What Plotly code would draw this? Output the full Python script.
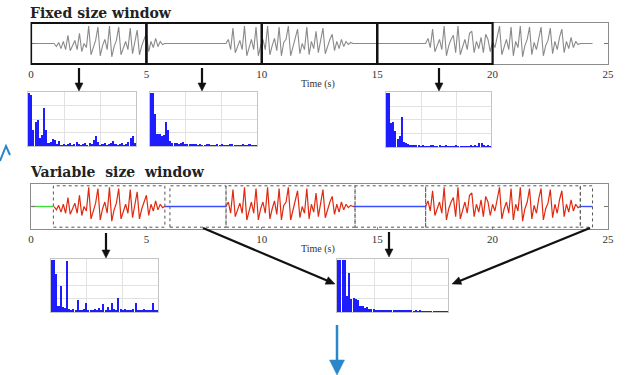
import plotly.graph_objects as go

W, H = 631, 375

# ---------------- data ----------------
time_ticks = [0, 5, 10, 15, 20, 25]
time_labels = ["0", "5", "10", "15", "20", "25"]
sample_step = 0.1
signal_start = 0.03
signal_end = 24.33

burst1_start = 1.0
burst1 = [0.0, -0.15, 0.05, -0.25, 0.1, -0.3, 0.4, -0.35, -0.1, 0.15,
          -0.3, 0.5, -0.4, 0.0, -0.2, 0.85, -0.55, -0.2, 0.15, 0.8,
          -0.6, -0.1, 0.2, -0.3, 0.85, -0.65, -0.15, 0.15, 0.8, -0.55,
          -0.2, 0.1, -0.3, 0.75, -0.5, 0.1, 0.65, -0.55, -0.1, 0.2,
          0.5, -0.4, 0.1, -0.2, 0.25, -0.15, 0.1, -0.05, 0.0]

burst2_start = 8.45
burst2 = [0.0, 0.2, -0.3, 0.75, -0.45, -0.1, 0.15, -0.3, 0.85, -0.6,
          -0.15, 0.2, -0.3, 0.8, -0.6, -0.1, 0.2, -0.3, 0.85, -0.55,
          -0.1, 0.25, -0.35, 0.8, -0.6, 0.05, 0.2, 0.85, -0.6, -0.15,
          0.2, 0.7, -0.5, 0.0, -0.3, 0.8, -0.55, 0.1, -0.25, 0.6,
          -0.45, 0.1, 0.75, -0.5, -0.1, 0.2, 0.45, -0.35, 0.1, -0.25,
          0.2, -0.15, 0.1, -0.05, 0.05, 0.0]

burst3_start = 17.1
burst3 = [0.0, 0.25, -0.2, 0.7, -0.4, -0.1, 0.2, -0.3, 0.85, -0.6,
          -0.1, 0.2, 0.4, -0.45, 0.85, -0.55, -0.1, 0.2, -0.3, 0.5,
          0.6, -0.45, 0.1, -0.25, 0.3, -0.45, 0.45, 0.2, -0.4, 0.1,
          -0.2, 0.35, 0.85, -0.55, -0.1, 0.2, -0.3, 0.8, -0.6, 0.1,
          -0.2, 0.85, -0.65, -0.1, 0.2, 0.8, -0.55, 0.05, -0.3, 0.35,
          0.8, -0.6, -0.1, 0.15, 0.75, -0.5, 0.1, -0.3, 0.3, 0.7,
          -0.45, 0.1, -0.25, 0.3, -0.2, 0.1, -0.05, 0.0]

fixed_windows = [(0, 5), (5, 10), (10, 15), (15, 20)]
variable_windows = [(0.97, 5.8), (6.02, 8.45), (8.45, 14.04),
                    (14.04, 17.1), (17.1, 23.8), (23.8, 24.33)]
quiet_segments = [(5.8, 8.45), (13.95, 17.1), (23.8, 24.33)]
lead_segment = (0.03, 0.97)

spec_fixed_1 = [1.0, 0.95, 0.3, 0.45, 0.49, 0.15, 0.2, 0.72, 0.3, 0.05,
                0.08, 0.13, 0.12, 0.03, 0.1, 0.02, 0.03, 0.02, 0.04, 0.06,
                0.02, 0.03, 0.08, 0.03, 0.02, 0.04, 0.05, 0.02, 0.05, 0.04,
                0.12, 0.18, 0.08, 0.02, 0.04, 0.05, 0.02, 0.03, 0.06, 0.1,
                0.03, 0.02, 0.03, 0.05, 0.02, 0.04, 0.08, 0.15, 0.18, 0.05]
spec_fixed_2 = [1.0, 1.0, 0.6, 0.22, 0.23, 0.18, 0.2, 0.44, 0.3, 0.1,
                0.05, 0.06, 0.05, 0.04, 0.05, 0.07, 0.04, 0.03, 0.03, 0.04,
                0.03, 0.03, 0.02, 0.03, 0.02, 0.02, 0.03, 0.04, 0.02, 0.02,
                0.02, 0.03, 0.02, 0.04, 0.02, 0.02, 0.02, 0.03, 0.03, 0.02,
                0.02, 0.02, 0.02, 0.03, 0.02, 0.02, 0.03, 0.02, 0.02, 0.02]
spec_fixed_4 = [1.0, 1.0, 0.45, 0.46, 0.3, 0.15, 0.2, 0.56, 0.1, 0.08,
                0.06, 0.04, 0.03, 0.03, 0.03, 0.04, 0.02, 0.03, 0.02, 0.02,
                0.02, 0.03, 0.04, 0.02, 0.02, 0.03, 0.02, 0.02, 0.03, 0.02,
                0.02, 0.02, 0.02, 0.03, 0.02, 0.02, 0.02, 0.02, 0.02, 0.02,
                0.03, 0.02, 0.03, 0.02, 0.08, 0.07, 0.03, 0.02, 0.03, 0.02]
spec_var_active = [1.0, 1.0, 0.72, 0.12, 0.49, 0.1, 0.08, 0.97, 0.05, 0.04,
                   0.05, 0.03, 0.23, 0.04, 0.03, 0.05, 0.18, 0.03, 0.04, 0.03,
                   0.05, 0.03, 0.08, 0.04, 0.15, 0.03, 0.1, 0.04, 0.18, 0.05,
                   0.04, 0.27, 0.06, 0.03, 0.05, 0.03, 0.04, 0.03, 0.06, 0.17,
                   0.03, 0.04, 0.03, 0.05, 0.03, 0.04, 0.03, 0.18, 0.04, 0.03]
spec_var_quiet = [1.0, 1.0, 1.0, 1.0, 0.3, 0.74, 0.25, 0.26, 0.25, 0.22,
                  0.12, 0.12, 0.08, 0.1, 0.06, 0.05, 0.06, 0.04, 0.04, 0.04,
                  0.03, 0.03, 0.03, 0.03, 0.03, 0.03, 0.03, 0.03, 0.03, 0.03,
                  0.03, 0.03, 0.03, 0.03, 0.02, 0.03, 0.02, 0.03, 0.02, 0.02,
                  0.02, 0.02, 0.02, 0.02, 0.02, 0.02, 0.02, 0.02, 0.02, 0.02]

# ---------------- helpers ----------------
def px(x, y):
    return x / W, 1 - y / H

def dom_x(a, b):
    return [a / W, b / W]

def dom_y(top, bottom):
    return [1 - bottom / H, 1 - top / H]

def burst_times(start, vals):
    return [round(start + i * sample_step, 4) for i in range(len(vals))]

b1t = burst_times(burst1_start, burst1)
b2t = burst_times(burst2_start, burst2)
b3t = burst_times(burst3_start, burst3)

fig = go.Figure()

GRAY = "#8a8a8a"
RED = "#e02a10"
BLUE = "#3a4cff"
GREEN = "#3ddc3d"
SPEC_BLUE = "rgba(10,10,255,0.92)"

# top (fixed) signal
full_t = [signal_start] + b1t + b2t + b3t + [signal_end]
full_y = [0.0] + burst1 + burst2 + burst3 + [0.0]
fig.add_trace(go.Scatter(x=full_t, y=full_y, mode="lines",
                         line=dict(color=GRAY, width=1.1),
                         xaxis="x", yaxis="y", hoverinfo="skip"))

# bottom (variable) signal
fig.add_trace(go.Scatter(x=list(lead_segment), y=[0, 0], mode="lines",
                         line=dict(color=GREEN, width=1.4),
                         xaxis="x2", yaxis="y2", hoverinfo="skip"))
for (a, b) in quiet_segments:
    fig.add_trace(go.Scatter(x=[a, b], y=[0, 0], mode="lines",
                             line=dict(color=BLUE, width=1.4),
                             xaxis="x2", yaxis="y2", hoverinfo="skip"))
for bt, bv in [(b1t, burst1), (b2t, burst2), (b3t, burst3)]:
    fig.add_trace(go.Scatter(x=bt, y=bv, mode="lines",
                             line=dict(color=RED, width=1.2),
                             xaxis="x2", yaxis="y2", hoverinfo="skip"))

# spectra
spectra = [spec_fixed_1, spec_fixed_2, spec_fixed_4, spec_var_active, spec_var_quiet]
spec_boxes = [(28, 136, 92, 146), (150, 257, 92, 146), (386, 491, 92, 147),
              (51, 158, 259, 312), (337, 448, 259, 312)]
for k, vals in enumerate(spectra):
    n = len(vals)
    xs = [(i + 0.5) / n for i in range(n)]
    fig.add_trace(go.Bar(x=xs, y=vals, width=[0.95 / n] * n,
                         marker=dict(color=SPEC_BLUE, line=dict(width=0)),
                         xaxis="x%d" % (k + 3), yaxis="y%d" % (k + 3),
                         hoverinfo="skip"))

layout = dict(
    width=W, height=H, margin=dict(l=0, r=0, t=0, b=0, autoexpand=False),
    paper_bgcolor="white", plot_bgcolor="white", showlegend=False,
    bargap=0,
)

sig_font = dict(family="Liberation Serif", size=11, color="#333")
for name, (top, bot) in [("", (23, 64)), ("2", (184, 229))]:
    layout["xaxis" + name] = dict(
        domain=dom_x(31, 608), range=[0, 25], tickvals=time_ticks, ticktext=time_labels,
        showline=True, linecolor="#8c8c8c", linewidth=1, mirror=True,
        ticks="inside", ticklen=2, tickcolor="#8c8c8c", showgrid=False, zeroline=False,
        tickfont=sig_font, anchor="y" + name,
    )
    layout["yaxis" + name] = dict(
        domain=dom_y(top, bot), range=[-1, 1], tickvals=[0], showticklabels=False,
        showline=True, linecolor="#8c8c8c", linewidth=1, mirror="ticks",
        ticks="inside", ticklen=4, tickcolor="#777", showgrid=False, zeroline=False,
        anchor="x" + name,
    )

for k, (x0, x1, y0, y1) in enumerate(spec_boxes):
    i = k + 3
    layout["xaxis%d" % i] = dict(
        domain=dom_x(x0, x1), range=[0, 1], tickvals=[1 / 3, 2 / 3], showticklabels=False,
        showgrid=True, gridcolor="#e2e2e2", gridwidth=1, showline=True, linecolor="#c4c4c4",
        mirror=True, ticks="", zeroline=False, anchor="y%d" % i, fixedrange=True,
    )
    layout["yaxis%d" % i] = dict(
        domain=dom_y(y0, y1), range=[0, 1.01], tickvals=[0.25, 0.5, 0.75], showticklabels=False,
        showgrid=True, gridcolor="#e2e2e2", gridwidth=1, showline=True, linecolor="#c4c4c4",
        mirror=True, ticks="", zeroline=False, anchor="x%d" % i, fixedrange=True,
    )

shapes = []
# fixed windows: thick black boxes
for (a, b) in fixed_windows:
    shapes.append(dict(type="rect", xref="x", yref="y domain", x0=a, x1=b, y0=0, y1=1,
                       line=dict(color="#111", width=2.2), layer="above"))
# variable windows: dotted boxes
for (a, b) in variable_windows:
    shapes.append(dict(type="rect", xref="x2", yref="y2 domain", x0=a, x1=b, y0=0.04, y1=0.96,
                       line=dict(color="#555", width=1, dash="dot"), layer="above"))


def arrow(x0, y0, x1, y1, color, lw, hl, hw):
    dx, dy = x1 - x0, y1 - y0
    L = (dx * dx + dy * dy) ** 0.5
    ux, uy = dx / L, dy / L
    bx, by = x1 - ux * hl, y1 - uy * hl
    nx, ny = -uy, ux
    a0 = px(x0, y0)
    a1 = px(bx + ux * 1.5, by + uy * 1.5)
    shapes.append(dict(type="line", xref="paper", yref="paper",
                       x0=a0[0], y0=a0[1], x1=a1[0], y1=a1[1],
                       line=dict(color=color, width=lw)))
    p1 = px(x1, y1)
    p2 = px(bx + nx * hw / 2, by + ny * hw / 2)
    p3 = px(bx - nx * hw / 2, by - ny * hw / 2)
    path = "M %f,%f L %f,%f L %f,%f Z" % (p1[0], p1[1], p2[0], p2[1], p3[0], p3[1])
    shapes.append(dict(type="path", xref="paper", yref="paper", path=path,
                       fillcolor=color, line=dict(color=color, width=0.5)))


BLACK = "#111111"
arrow(79, 68, 79, 91, BLACK, 2.2, 8, 8)
arrow(202, 68, 202, 91, BLACK, 2.2, 8, 8)
arrow(439, 68, 439, 91, BLACK, 2.2, 8, 8)
arrow(106, 233, 106, 258, BLACK, 2.2, 8, 8)
arrow(389, 232, 389, 257, BLACK, 2.2, 8, 8)
arrow(203, 228, 335, 284, BLACK, 2.2, 9, 8)
arrow(590, 228, 452, 284, BLACK, 2.2, 9, 8)
arrow(337, 325, 337, 375, "#2a86c8", 2.5, 15, 15)

# partially visible blue mark at left edge
p_a = px(0, 161); p_b = px(6, 146); p_c = px(10, 155)
shapes.append(dict(type="path", xref="paper", yref="paper",
                   path="M %f,%f L %f,%f L %f,%f" % (p_a[0], p_a[1], p_b[0], p_b[1], p_c[0], p_c[1]),
                   line=dict(color="#2a86c8", width=2)))

layout["shapes"] = shapes

title_font = dict(family="DejaVu Serif", size=14, color="#222")
small_font = dict(family="Liberation Serif", size=10, color="#333")
annotations = []
tx, ty = px(28, 13)
annotations.append(dict(text="<b>Fixed size window</b>", x=tx, y=ty, xref="paper", yref="paper",
                        xanchor="left", yanchor="middle", showarrow=False, font=title_font))
tx, ty = px(28, 172)
annotations.append(dict(text="<b>Variable  size  window</b>", x=tx, y=ty, xref="paper", yref="paper",
                        xanchor="left", yanchor="middle", showarrow=False, font=title_font))
for yy in (84, 249):
    tx, ty = px(318, yy)
    annotations.append(dict(text="Time (s)", x=tx, y=ty, xref="paper", yref="paper",
                            xanchor="center", yanchor="middle", showarrow=False, font=small_font))
layout["annotations"] = annotations

fig.update_layout(**layout)
fig.write_html("out.html", config={"displayModeBar": False},
               post_script="document.body.style.margin='0';document.body.style.padding='0';")
